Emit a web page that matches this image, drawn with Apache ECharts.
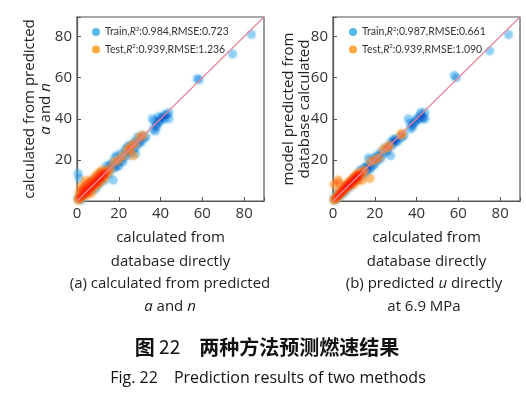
<!DOCTYPE html>
<html>
<head>
<meta charset="utf-8">
<script src="https://cdn.jsdelivr.net/npm/echarts@6/dist/echarts.min.js"></script>
<style>html,body{margin:0;padding:0;background:#fff;}#c{width:526px;height:398px;}</style>
</head>
<body>
<div id="c"></div>
<script>
// ---- data ----
var xTicks = [0, 20, 40, 60, 80];
var yTicks = [20, 40, 60, 80];
var axisMax = 89.5;
var diagLine = [[0, 0], [89.5, 89.5]];

var trainA = [
  [83.5,81],[74.5,71.5],[57.5,59.5],[58.5,59],
  [36,40],[37,39],[36.5,35],[37.5,34],[38,37],[39,38],[40,40],[41,41],[42,40],[43,42],[44,43],[40,39],[38,36],[42,42],[44,40],[39,41],
  [25,24],[26,27],[27,25],[28,29],[29,28],[30,30],[31,29],[32,31],[28,26],[29,31],[27,28],[26,23],[30,28],[33,31],[31,32],[28,23],[25,27],
  [18,21],[19,22],[20,19],[21,20],[22,21],[23,23],[24,22],[20,17],[21,23],[22,19],[19,17],[23,25],[24,26],[17,18],[18,16],
  [10,10],[11,12],[12,11],[13,13],[14,13],[15,16],[16,15],[17,17],[12,14],[14,15],[15,13],[16,18],[17.3,10.2],[13,10],[11,9],[10,8],[14,17],
  [0.5,13.5],[1,11],[0.5,1],[1,2],[2,1.5],[2.5,3],[3,2],[3.5,4],[4,3.5],[4.5,5],[5,4],[5.5,6],[6,5],[6.5,7],[7,6],[7.5,8],[8,7],[8.5,9],[9,8],[9.5,10],[3,5],[5,7],[7,5],[8,10],[2,0.5],[6,8],[9,6],[4,6]
];
var testA = [
  [0.5,0.5],[1,1.5],[1.5,1],[2,2.5],[2.5,2],[3,3.5],[3.5,3],[4,4.5],[4.5,4],[5,5.5],[5.5,5],[6,6.5],[6.5,6],[7,7.5],[7.5,7],[8,8.5],[8.5,8],[9,9.5],[9.5,9],[10,10.5],[10.5,10],[11,11.5],[11.5,11],[12,12.5],[12.5,12],[13,13.5],[13.5,13],[14,14.5],
  [2,5],[3,6],[4,7],[5,8],[6,9],[7,10],[8,11],[9,12],[10,13],[11,14],[12,15],[5,3],[7,4],[9,7],[11,9],[13,11],[15,14],[16,16],[18,19],[20,20],[22,22],[24,25],[25.4,25],[26,27],[27,22],[28,28],[30,31],[31.6,32],[1,4],[2,7],[4,10]
];
var trainB = [
  [84,81],[75,73],[58,61],[59,60],
  [36,40],[37,38],[37,35],[38,36],[39,38],[40,40],[41,40],[42,42],[43,41],[44,40],[42,43],[40,39],[38,37],[44,43],[43,40],
  [25,26],[26,25],[27,27],[27.6,22],[28,29],[29,28],[30,30],[31,29],[32,31],[33,31],[30,29],[29,30],[26,24],[28,27],[34,32],
  [17,21],[18,20],[19,19],[20,21],[21,20],[22,22],[23,24],[24,23],[20,18],[21,22],[19,17],[22,20],[23,21],[18,16],[16,17],
  [10,11],[11,10],[12,12],[13,12],[14,15],[15,14],[16,16],[17,17],[12,13],[13,15],[14,12],[15,16],[11,12],[16,14],[17,15],
  [0.5,1],[1,0.5],[1.5,2],[2,1.5],[2.5,3],[3,2.5],[3.5,4],[4,3],[4.5,5],[5,4.5],[5.5,6],[6,5],[6.5,7],[7,6.5],[7.5,8],[8,7],[8.5,9],[9,8.5],[9.5,10],[3,4],[5,5],[7,7.5],[9,9],[2,3],[4,5],[6,7],[8,8]
];
var testB = [
  [0.5,0.5],[1,1],[1.5,1.5],[2,2],[2.5,2.5],[3,3],[3.5,3.5],[4,4],[4.5,4.5],[5,5],[5.5,5.5],[6,6],[6.5,6.5],[7,7],[7.5,7.5],[8,8],[8.5,8.5],[9,9],[9.5,9.5],[10,10],[10.5,10.5],[11,11],[11.5,11.5],[12,12],[12.5,12.5],[13,13],
  [8,9.5],[9,10.5],[10,11.5],[11,12.5],[12,13.5],[7,8.5],[6,7.5],[14,14],[15,15],[2.4,10.2],[2.5,9],[0.5,8],[14,10],[17.7,11],[18,19],[20,20],[22,21],[24,25],[26,26],[27,27],[32.5,32],[33,33],[3,5],[5,7],[10,8],[12,10]
];
var legendA = {'Train (a)': ['0.984', '0.723'], 'Test (a)': ['0.939', '1.236']};
var legendB = {'Train (b)': ['0.987', '0.661'], 'Test (b)': ['0.939', '1.090']};

// ---- chart ----
var FONT = 'Open Sans';
var LFONT = 'Lato';
var chart = echarts.init(document.getElementById('c'), null, {renderer: 'canvas'});

function xAxisCfg(gi) {
  return {
    gridIndex: gi, type: 'value', min: 0, max: axisMax, interval: 20,
    axisLine: {show: true, lineStyle: {color: '#555', width: 1.2}},
    axisTick: {show: true, inside: true, length: 4, lineStyle: {color: '#555'}},
    axisLabel: {fontFamily: FONT, fontSize: 15, color: '#333', margin: 5,
      formatter: function (v) { return xTicks.indexOf(v) >= 0 ? String(v) : ''; }},
    splitLine: {show: false},
    name: 'calculated from\ndatabase directly',
    nameLocation: 'middle', nameGap: 25, nameMoveOverlap: false,
    nameTextStyle: {fontFamily: FONT, fontSize: 15, color: '#222', lineHeight: 24}
  };
}
function yAxisCfg(gi, name, gap) {
  return {
    gridIndex: gi, type: 'value', min: 0, max: axisMax, interval: 20,
    axisLine: {show: true, lineStyle: {color: '#555', width: 1.2}},
    axisTick: {show: true, inside: true, length: 4, lineStyle: {color: '#555'}},
    axisLabel: {fontFamily: FONT, fontSize: 15, color: '#333', margin: 5,
      formatter: function (v) { return yTicks.indexOf(v) >= 0 ? String(v) : ''; }},
    splitLine: {show: false},
    name: name, nameLocation: 'middle', nameRotate: 90, nameGap: gap, nameMoveOverlap: false,
    nameTextStyle: {fontFamily: FONT, fontSize: 15, color: '#222', lineHeight: 16,
      rich: {i: {fontFamily: FONT, fontSize: 15, fontStyle: 'italic', color: '#222', lineHeight: 16}}}
  };
}
function legendCfg(left, map) {
  return {
    left: left, top: 21, orient: 'vertical', itemWidth: 8, itemHeight: 8, itemGap: 6,
    icon: 'circle', data: Object.keys(map),
    itemStyle: {opacity: 1},
    formatter: function (n) {
      var v = map[n];
      return '{t|' + n.split(' ')[0] + ',}{r|R}{s|2}{t|:' + v[0] + ',RMSE:' + v[1] + '}';
    },
    textStyle: {fontFamily: LFONT, fontSize: 10.5, color: '#333',
      rich: {
        t: {fontFamily: LFONT, fontSize: 10.5, color: '#333', lineHeight: 12},
        r: {fontFamily: LFONT, fontSize: 10.5, fontStyle: 'italic', color: '#333', lineHeight: 12},
        s: {fontFamily: LFONT, fontSize: 6, color: '#333', verticalAlign: 'top', lineHeight: 12}
      }}
  };
}
function scatter(name, gi, data, color, op, zl) {
  return {
    name: name, type: 'scatter', xAxisIndex: gi, yAxisIndex: gi, data: data,
    symbolSize: 9, blendMode: 'multiply', zlevel: zl, z: 3,
    itemStyle: {color: color, opacity: op, shadowBlur: 3, shadowColor: color},
    emphasis: {disabled: true}
  };
}
function diag(gi) {
  return {
    type: 'line', xAxisIndex: gi, yAxisIndex: gi, data: diagLine, symbol: 'none',
    lineStyle: {color: '#e5879b', width: 1.2}, zlevel: 3, z: 4, silent: true
  };
}

chart.setOption({
  backgroundColor: '#fff',
  animation: false,
  grid: [
    {left: 77, top: 17, width: 187, height: 184, show: true, borderColor: '#555', borderWidth: 1.2},
    {left: 333, top: 17, width: 187, height: 184, show: true, borderColor: '#555', borderWidth: 1.2}
  ],
  xAxis: [xAxisCfg(0), xAxisCfg(1)],
  yAxis: [
    yAxisCfg(0, 'calculated from predicted\n{i|a} and {i|n}', 23),
    yAxisCfg(1, 'model predicted from\ndatabase calculated', 20)
  ],
  legend: [legendCfg(87, legendA), legendCfg(344, legendB)],
  series: [
    scatter('Train (a)', 0, trainA, '#55bbee', 0.38, 1),
    scatter('Test (a)', 0, testA, '#ffaa40', 0.42, 2),
    diag(0),
    scatter('Train (b)', 1, trainB, '#55bbee', 0.38, 1),
    scatter('Test (b)', 1, testB, '#ffaa40', 0.42, 2),
    diag(1)
  ],
  graphic: [
    {type: 'text', x: 170, y: 284, style: {text: '(a) calculated from predicted', font: '15px ' + FONT, fill: '#222', align: 'center', verticalAlign: 'middle', textAlign: 'center', textVerticalAlign: 'middle'}},
    {type: 'text', x: 170, y: 307, style: {text: '{i|a} and {i|n}', font: '15px ' + FONT, fill: '#222', align: 'center', verticalAlign: 'middle', textAlign: 'center', textVerticalAlign: 'middle',
      rich: {i: {fontFamily: FONT, fontSize: 15, fontStyle: 'italic', color: '#222'}}}},
    {type: 'text', x: 424, y: 284, style: {text: '(b) predicted {i|u} directly', font: '15px ' + FONT, fill: '#222', align: 'center', verticalAlign: 'middle', textAlign: 'center', textVerticalAlign: 'middle',
      rich: {i: {fontFamily: FONT, fontSize: 15, fontStyle: 'italic', color: '#222'}}}},
    {type: 'text', x: 424, y: 307, style: {text: 'at 6.9 MPa', font: '15px ' + FONT, fill: '#222', align: 'center', verticalAlign: 'middle', textAlign: 'center', textVerticalAlign: 'middle'}},
    {type: 'text', x: 267, y: 347, style: {text: '{b|图} {n|22}\u3000{b|两种方法预测燃速结果}', font: '19px "Noto Sans CJK SC"', fill: '#111', align: 'center', verticalAlign: 'middle', textAlign: 'center', textVerticalAlign: 'middle',
      rich: {b: {fontFamily: '"Noto Sans CJK SC"', fontWeight: 'bold', fontSize: 20, color: '#111'}, n: {fontFamily: '"Noto Sans CJK SC"', fontSize: 19, color: '#111'}}}},
    {type: 'text', x: 268, y: 378, style: {text: 'Fig. 22\u3000Prediction results of two methods', font: '16px ' + FONT, fill: '#111', align: 'center', verticalAlign: 'middle', textAlign: 'center', textVerticalAlign: 'middle'}}
  ]
});
</script>
</body>
</html>
